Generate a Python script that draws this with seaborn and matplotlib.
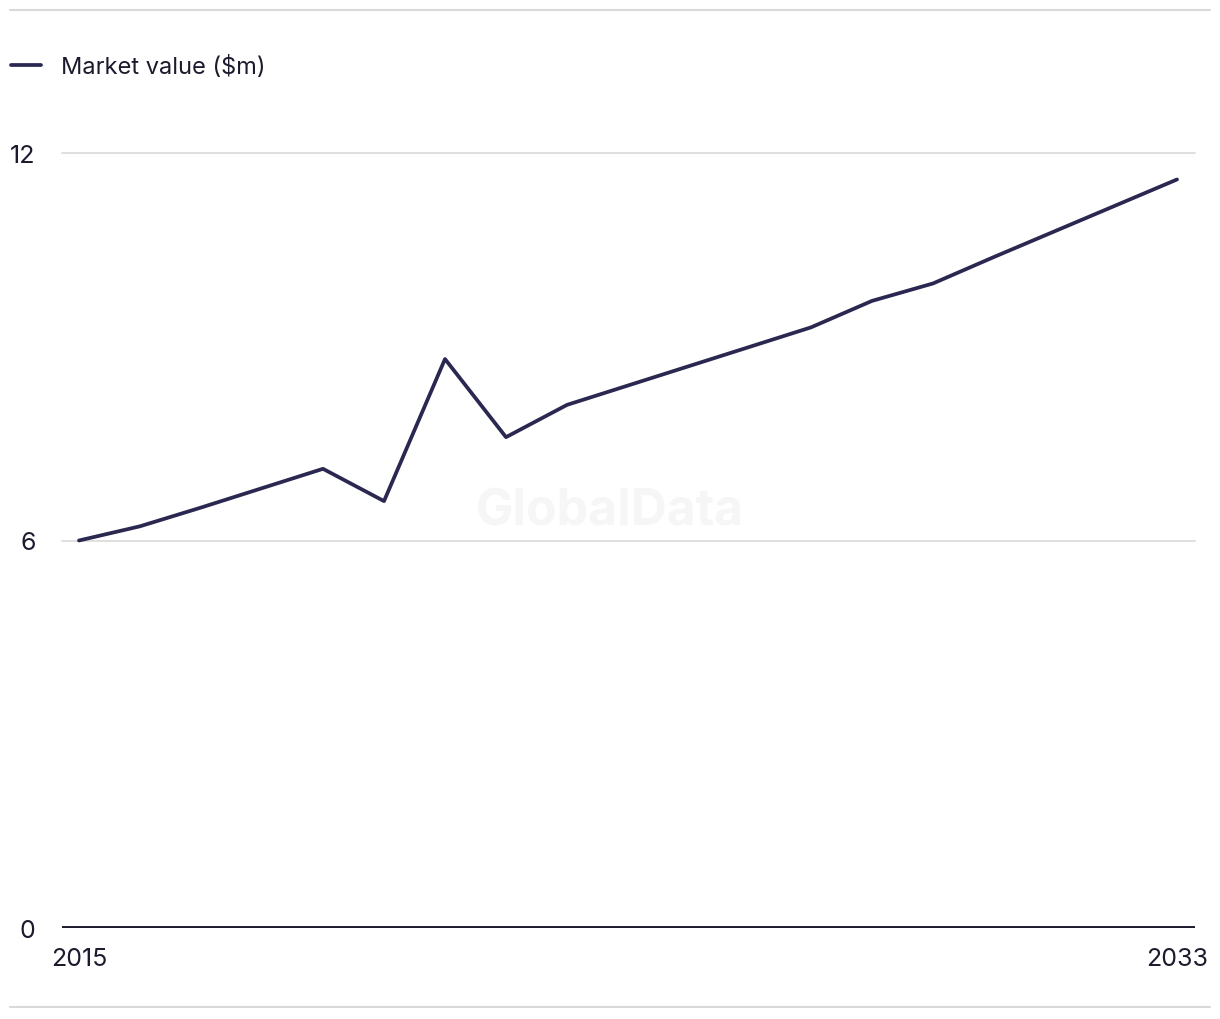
import numpy as np
import pandas as pd
import matplotlib.pyplot as plt
from matplotlib.lines import Line2D
import seaborn as sns

years = list(range(2015, 2034))
market_value = [6.00, 6.22, 6.51, 6.81, 7.11, 6.61, 8.81, 7.60, 8.10, 8.40,
                8.70, 9.00, 9.30, 9.71, 9.98, 10.39, 10.79, 11.19, 11.59]
series_name = "Market value ($m)"
y_ticks = [0, 6, 12]
x_ticks = [2015, 2033]

df = pd.DataFrame({"Year": years, "Value": market_value})

sns.set_theme(style="white")
plt.rcParams['font.family'] = ['Inter', 'DejaVu Sans']

text_col = "#1c1b2e"
line_col = "#2a2850"
grid_col = "#d9d9d9"

fig = plt.figure(figsize=(12.2, 10.2), dpi=100)
ax = fig.add_axes([62/1220, 91/1020, (1195-62)/1220, (928-153)/1020])

# watermark
ax.text(0.5, 1 - 512/1020, "GlobalData", transform=fig.transFigure, ha="center", va="center",
        fontsize=36, fontweight="bold", color="#f6f6f6", zorder=0)

sns.lineplot(data=df, x="Year", y="Value", ax=ax, color=line_col, linewidth=2.7,
             label=series_name, zorder=3)

ax.set_xlim(2015 - 17/61, 2033 + 18/61)
ax.set_ylim(0, 12)
ax.set_yticks(y_ticks)
ax.set_yticklabels([str(v) for v in y_ticks])
ax.set_xticks(x_ticks)
ax.set_xticklabels([str(v) for v in x_ticks])
ax.set_xlabel("")
ax.set_ylabel("")

for v in y_ticks[1:]:
    ax.axhline(v, color=grid_col, linewidth=1.2, zorder=1, clip_on=False)
ax.axhline(0, color=text_col, linewidth=2.8, zorder=2)

for s in ax.spines.values():
    s.set_visible(False)
ax.tick_params(axis="y", length=0, pad=19, labelsize=18, labelcolor=text_col)
ax.tick_params(axis="x", length=0, pad=14, labelsize=18, labelcolor=text_col)

leg = ax.legend(loc="upper left", bbox_to_anchor=(2/1220, 1 - 47/1020), bbox_transform=fig.transFigure,
                frameon=False, fontsize=17, handlelength=1.25, handletextpad=0.85, borderaxespad=0)
for t in leg.get_texts():
    t.set_color(text_col)

# top and bottom rules
fig.add_artist(Line2D([10/1220, 1210/1220], [1 - 11/1020, 1 - 11/1020], color=grid_col, linewidth=1.5))
fig.add_artist(Line2D([10/1220, 1210/1220], [1 - 1008/1020, 1 - 1008/1020], color=grid_col, linewidth=1.5))

fig.savefig("out.png", dpi=100, facecolor="white")
